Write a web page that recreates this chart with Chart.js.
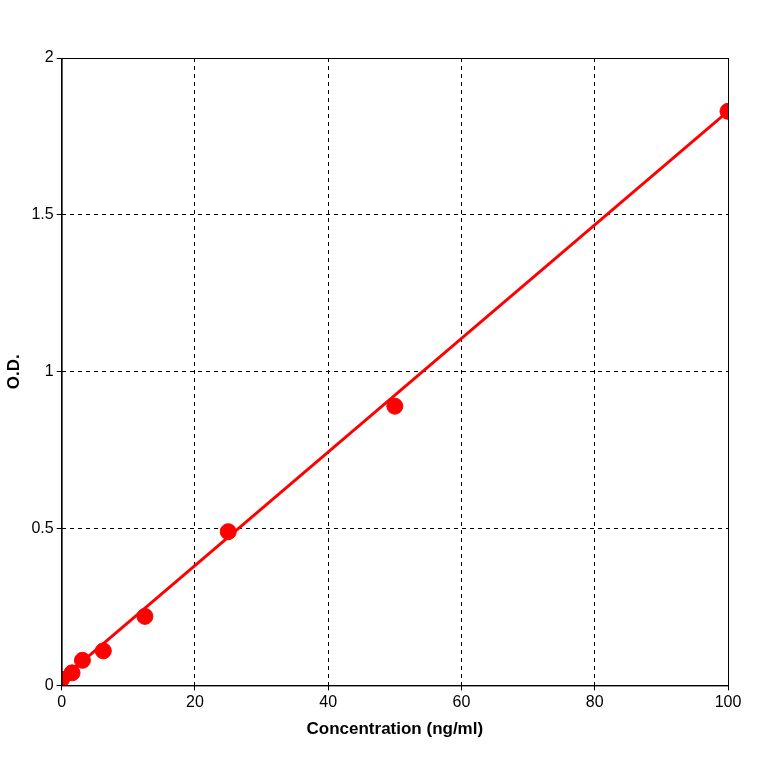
<!DOCTYPE html>
<html>
<head>
<script src="https://cdn.jsdelivr.net/npm/chart.js@4"></script>
<style>
  body { margin: 0; background: #fff; }
  #wrap { width: 764px; height: 764px; }
</style>
</head>
<body>
<div id="wrap"><canvas id="curve"></canvas></div>
<script>
// standard points
var concentrations = [0, 1.56, 3.12, 6.25, 12.5, 25, 50, 100];
var odValues = [0.02, 0.04, 0.08, 0.11, 0.22, 0.49, 0.89, 1.83];
// fitted line ends
var fitX = [0, 100];
var fitY = [0.02, 1.83];
var xTicks = [0, 20, 40, 60, 80, 100];
var yTicks = [0, 0.5, 1, 1.5, 2];

var points = concentrations.map(function (c, i) { return { x: c, y: odValues[i] }; });
var fitLine = fitX.map(function (c, i) { return { x: c, y: fitY[i] }; });

var grid = { color: '#000', tickLength: 5, tickColor: '#000' };
var border = { color: '#000', width: 1, dash: [4, 4] };

new Chart(document.getElementById('curve').getContext('2d'), {
  type: 'scatter',
  data: {
    datasets: [{
      data: fitLine,
      showLine: true,
      borderColor: '#ff0000',
      borderWidth: 3,
      pointRadius: 0
    }, {
      data: points,
      backgroundColor: '#ff0000',
      borderColor: '#ff0000',
      pointStyle: 'circle',
      pointRadius: 8,
      pointHoverRadius: 8
    }]
  },
  options: {
    responsive: true,
    maintainAspectRatio: false,
    animation: false,
    layout: { padding: { top: 58, right: 36, left: 0, bottom: 20 } },
    plugins: { legend: { display: false }, tooltip: { enabled: false } },
    scales: {
      x: {
        type: 'linear', min: 0, max: 100,
        afterBuildTicks: function (ax) { ax.ticks = xTicks.map(function (v) { return { value: v }; }); },
        grid: grid,
        border: border,
        ticks: { color: '#000', font: { family: 'Liberation Sans', size: 16 } },
        title: { display: true, text: 'Concentration (ng/ml)', color: '#000', font: { family: 'Liberation Sans', size: 17, weight: 'bold' } }
      },
      y: {
        type: 'linear', min: 0, max: 2,
        afterBuildTicks: function (ax) { ax.ticks = yTicks.map(function (v) { return { value: v }; }); },
        grid: grid,
        border: border,
        ticks: { color: '#000', font: { family: 'Liberation Sans', size: 16 }, callback: function (v) { return String(v); } },
        title: { display: true, text: 'O.D.', color: '#000', font: { family: 'Liberation Sans', size: 17, weight: 'bold' } }
      }
    }
  },
  plugins: [{
    id: 'frame',
    afterDraw: function (chart) {
      var a = chart.chartArea, c = chart.ctx;
      c.save();
      c.strokeStyle = '#000';
      c.lineWidth = 1;
      c.setLineDash([]);
      c.strokeRect(a.left + 0.5, a.top + 0.5, a.right - a.left, a.bottom - a.top);
      c.restore();
    }
  }]
});
</script>
</body>
</html>
